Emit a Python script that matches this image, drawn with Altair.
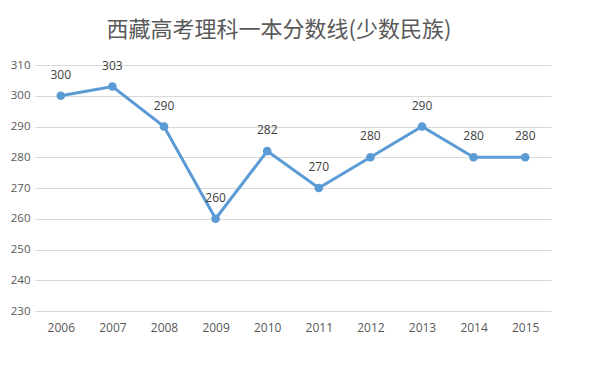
import altair as alt
import pandas as pd

years = ["2006", "2007", "2008", "2009", "2010", "2011", "2012", "2013", "2014", "2015"]
scores = [300, 303, 290, 260, 282, 270, 280, 290, 280, 280]
y_ticks = [230, 240, 250, 260, 270, 280, 290, 300, 310]

df = pd.DataFrame({"year": years, "score": scores})

x = alt.X("year:N", title=None, sort=years,
          scale=alt.Scale(paddingInner=0, paddingOuter=0),
          axis=alt.Axis(labelAngle=0, ticks=False, domain=True, domainColor="#d9d9d9",
                        labelColor="#595959", labelFont="Open Sans", labelFontSize=12,
                        labelPadding=11))
y = alt.Y("score:Q", title=None,
          scale=alt.Scale(domain=[230, 310], nice=False, zero=False),
          axis=alt.Axis(values=y_ticks, ticks=False, domain=False, gridColor="#d9d9d9",
                        labelColor="#595959", labelFont="Open Sans", labelFontSize=11.5,
                        labelPadding=5))

base = alt.Chart(df).encode(x=x, y=y)

line = base.mark_line(color="#5b9bd5", strokeWidth=3)
pts = base.mark_point(color="#5b9bd5", filled=True, size=75, opacity=1)
labels = base.mark_text(dy=-21, fontSize=12, color="#404040", font="Open Sans").encode(
    text="score:Q")

chart = (line + pts + labels).properties(
    width=516, height=246,
    autosize=alt.AutoSizeParams(type="none"),
    padding={"left": 27, "top": 57, "right": 20, "bottom": 40},
    title=alt.TitleParams("西藏高考理科一本分数线(少数民族)", font="Noto Sans CJK SC",
                          fontSize=22, fontWeight="normal", color="#595959",
                          anchor="middle", offset=17, dx=-14),
).configure_view(stroke=None)

chart.save("out.html", embed_options={"renderer": "svg", "actions": False})
